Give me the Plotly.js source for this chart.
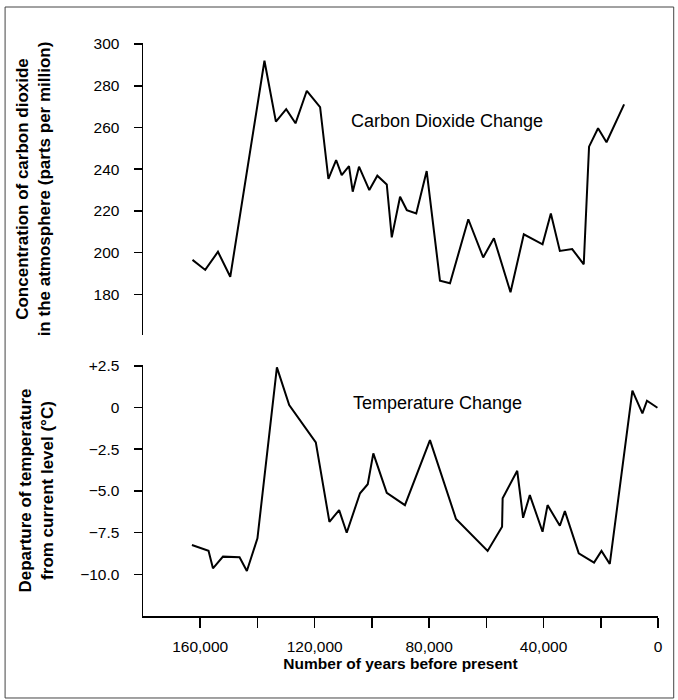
<!DOCTYPE html>
<html>
<head>
<meta charset="utf-8">
<script src="https://cdn.plot.ly/plotly-3.0.1.min.js"></script>
<style>html,body{margin:0;padding:0;background:#fff;}#chart{width:678px;height:700px;}</style>
</head>
<body>
<div id="chart"></div>
<script>
// Carbon dioxide (ppm) vs years before present
const co2Years = [162700,158250,153800,149500,137550,133550,129950,126700,122750,118100,115200,112500,110550,108000,106700,104500,100900,98100,94800,93050,90150,87800,84500,80850,76200,72700,66300,61100,57350,51550,46900,40350,37450,34300,30000,25950,24100,20950,18000,11850];
const co2Values = [196.5,191.7,200.4,188.4,292.0,262.8,268.8,262.0,277.6,269.7,235.3,244.4,237.2,241.5,229.2,241.2,230.0,236.9,232.7,207.3,226.8,220.4,218.8,239.1,186.5,185.3,216.0,197.7,206.9,181.0,208.8,204.0,218.8,200.8,201.7,194.4,250.8,259.6,252.9,271.1];

// Temperature departure (°C) vs years before present
const tempYears = [162900,157100,155550,152050,146250,143700,140000,133200,128900,119600,114850,111450,108800,104150,101450,99500,94800,88450,79700,70600,59550,54500,54300,49200,47150,44800,40350,38600,34300,32550,27700,22350,19750,16850,8950,5450,3850,200];
const tempValues = [-8.24,-8.59,-9.64,-8.94,-8.98,-9.80,-7.84,2.41,0.15,-2.09,-6.85,-6.15,-7.51,-5.14,-4.60,-2.75,-5.11,-5.85,-1.95,-6.68,-8.60,-7.15,-5.44,-3.79,-6.61,-5.25,-7.45,-5.85,-7.09,-6.21,-8.74,-9.30,-8.60,-9.38,1.01,-0.35,0.41,-0.01];

// Tick labels
const xTickVals = [160000,140000,120000,100000,80000,60000,40000,20000,0];
const xTickText = ['160,000','','120,000','','80,000','','40,000','','0'];
const co2TickVals = [180,200,220,240,260,280,300];
const co2TickText = ['180','200','220','240','260','280','300'];
const tempTickVals = [2.5,0,-2.5,-5,-7.5,-10];
const tempTickText = ['+2.5','0','\u22122.5','\u22125.0','\u22127.5','\u221210.0'];

const FONT = '"Liberation Sans", Arial, Helvetica, sans-serif';

const traces = [
  {x: co2Years, y: co2Values, xaxis: 'x2', yaxis: 'y2', type: 'scatter', mode: 'lines',
   line: {color: '#000', width: 2}, hoverinfo: 'x+y', showlegend: false},
  {x: tempYears, y: tempValues, xaxis: 'x', yaxis: 'y', type: 'scatter', mode: 'lines',
   line: {color: '#000', width: 2}, hoverinfo: 'x+y', showlegend: false}
];

const layout = {
  width: 678, height: 700,
  margin: {l: 143, r: 20, t: 43, b: 84},
  paper_bgcolor: '#fff', plot_bgcolor: '#fff',
  font: {family: FONT, color: '#000', size: 15.5},
  showlegend: false,
  xaxis: {
    domain: [0, 1], anchor: 'y', range: [180000, 0],
    showline: true, linecolor: '#000', linewidth: 1.5,
    ticks: 'outside', ticklen: 10, tickwidth: 1.5, tickcolor: '#000',
    tickvals: xTickVals, ticktext: xTickText, ticklabelstandoff: 6,
    showgrid: false, zeroline: false,
    title: {text: '<b>Number of years before present</b>', font: {size: 15.5}, standoff: 4}
  },
  yaxis: {
    domain: [0, 0.438], anchor: 'x', range: [-12.5, 2.55],
    showline: true, linecolor: '#000', linewidth: 1.5,
    ticks: 'outside', ticklen: 8, tickwidth: 1.5, tickcolor: '#000',
    tickvals: tempTickVals, ticktext: tempTickText, ticklabelstandoff: 11,
    showgrid: false, zeroline: false,
    title: {text: '<b>Departure of temperature<br>from current level (°C)</b>', font: {size: 17}, standoff: 22}
  },
  xaxis2: {
    domain: [0, 1], anchor: 'y2', range: [180000, 0], matches: 'x',
    showline: false, showticklabels: false, ticks: '', showgrid: false, zeroline: false
  },
  yaxis2: {
    domain: [0.4904, 1], anchor: 'x2', range: [160.5, 300.5],
    showline: true, linecolor: '#000', linewidth: 1.5,
    ticks: 'outside', ticklen: 8, tickwidth: 1.5, tickcolor: '#000',
    tickvals: co2TickVals, ticktext: co2TickText, ticklabelstandoff: 11,
    showgrid: false, zeroline: false,
    title: {text: '<b>Concentration of carbon dioxide<br>in the atmosphere (parts per million)</b>', font: {size: 17}, standoff: 38}
  },
  annotations: [
    {text: 'Carbon Dioxide Change', xref: 'x2', yref: 'y2', x: 107870, y: 263.2,
     xanchor: 'left', yanchor: 'middle', showarrow: false, font: {size: 18, color: '#000'}},
    {text: 'Temperature Change', xref: 'x', yref: 'y', x: 107380, y: 0.25,
     xanchor: 'left', yanchor: 'middle', showarrow: false, font: {size: 18, color: '#000'}}
  ],
  shapes: [
    {type: 'rect', xref: 'paper', yref: 'paper', x0: -0.2678, x1: 1.0305, y0: -0.1431, y1: 1.0628,
     line: {color: '#444', width: 1}, fillcolor: 'rgba(0,0,0,0)'}
  ]
};

Plotly.newPlot('chart', traces, layout, {displayModeBar: false, staticPlot: true});
</script>
</body>
</html>
